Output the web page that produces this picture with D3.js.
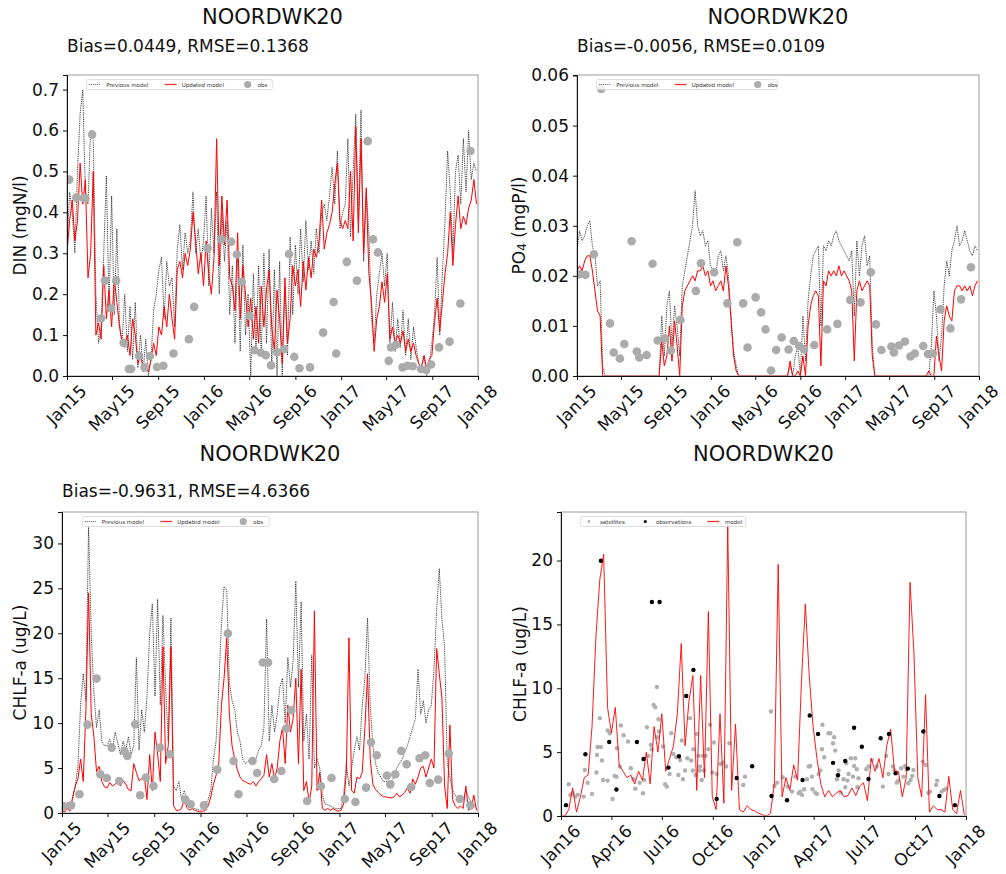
<!DOCTYPE html>
<html>
<head>
<meta charset="utf-8">
<script src="https://cdn.jsdelivr.net/npm/d3@7"></script>
<style>
body { margin: 0; background: #fff; }
svg { font-family: "DejaVu Sans", sans-serif; }
</style>
</head>
<body>
<div></div>
<script>
// ---- data (model series are weekly values starting 1 Jan of first year) ----
var stationName = "NOORDWK20";
var legendLabels = ["Previous model", "Updated model", "obs"];
var legendLabels4 = ["satellites", "observations", "model"];

var xTicks3y = ["2015-01-01","2015-05-01","2015-09-01","2016-01-01","2016-05-01","2016-09-01",
                "2017-01-01","2017-05-01","2017-09-01","2018-01-01"];
var xTicks2y = ["2016-01-01","2016-04-01","2016-07-01","2016-10-01","2017-01-01","2017-04-01",
                "2017-07-01","2017-10-01","2018-01-01"];
var dinTicks = [0, 0.1, 0.2, 0.3, 0.4, 0.5, 0.6, 0.7];
var po4Ticks = [0, 0.01, 0.02, 0.03, 0.04, 0.05, 0.06];
var chlTicks = [0, 5, 10, 15, 20, 25, 30];
var chl4Ticks = [0, 5, 10, 15, 20];

var dinStats = "Bias=0.0449, RMSE=0.1368";
var po4Stats = "Bias=-0.0056, RMSE=0.0109";
var chlStats = "Bias=-0.9631, RMSE=4.6366";

var dinPrev = [0.32,0.45,0.40,0.30,0.50,0.64,0.70,0.45,0.42,0.60,0.58,
 0.20,0.08,0.12,0.30,0.49,0.17,0.44,0.15,0.36,0.13,
 0.08,0.20,0.06,0.17,0.04,0.18,0.02,0.10,0.01,0.09,
 0.00,0.04,0.16,0.20,0.26,0.29,0.14,0.28,0.22,0.24,
 0.12,0.31,0.37,0.26,0.35,0.30,0.33,0.45,0.30,0.36,
 0.28,0.33,0.44,0.22,0.41,0.30,0.45,0.20,0.40,0.28,
 0.38,0.15,0.27,0.08,0.30,0.06,0.32,0.10,0.20,0.00,
 0.25,0.06,0.27,0.05,0.30,0.08,0.31,0.02,0.26,0.00,
 0.28,0.00,0.22,0.05,0.34,0.15,0.32,0.20,0.36,0.23,
 0.38,0.26,0.33,0.25,0.36,0.30,0.40,0.42,0.38,0.44,
 0.51,0.42,0.55,0.36,0.40,0.42,0.58,0.34,0.50,0.64,
 0.38,0.65,0.28,0.45,0.35,0.14,0.08,0.20,0.25,0.30,
 0.22,0.30,0.08,0.18,0.06,0.14,0.07,0.16,0.05,0.14,
 0.04,0.12,0.07,0.03,0.02,0.05,0.00,0.03,0.08,0.15,
 0.29,0.10,0.25,0.38,0.55,0.45,0.30,0.50,0.54,0.42,
 0.58,0.45,0.60,0.48,0.52,0.50];

var dinUpd = [0.30,0.38,0.43,0.33,0.38,0.52,0.42,0.48,0.24,0.30,0.50,
 0.10,0.13,0.09,0.27,0.14,0.21,0.12,0.24,0.18,0.12,
 0.08,0.07,0.10,0.05,0.14,0.10,0.03,0.05,0.02,0.03,
 0.01,0.04,0.08,0.05,0.12,0.10,0.17,0.12,0.20,0.14,
 0.09,0.26,0.28,0.24,0.30,0.27,0.31,0.40,0.33,0.25,
 0.30,0.22,0.33,0.25,0.20,0.29,0.58,0.27,0.44,0.32,
 0.43,0.24,0.22,0.16,0.35,0.14,0.27,0.20,0.12,0.19,
 0.09,0.17,0.08,0.22,0.12,0.21,0.26,0.12,0.06,0.21,
 0.14,0.03,0.24,0.08,0.14,0.27,0.22,0.26,0.17,0.28,
 0.21,0.29,0.24,0.31,0.29,0.33,0.43,0.31,0.35,0.37,
 0.40,0.47,0.52,0.38,0.36,0.38,0.36,0.50,0.33,0.61,
 0.35,0.58,0.30,0.46,0.25,0.18,0.06,0.14,0.17,0.23,
 0.18,0.25,0.09,0.12,0.08,0.10,0.08,0.11,0.06,0.09,
 0.06,0.08,0.05,0.03,0.02,0.05,0.02,0.04,0.05,0.13,
 0.19,0.11,0.18,0.25,0.30,0.40,0.27,0.37,0.44,0.36,
 0.39,0.37,0.41,0.43,0.48,0.42];

var dinObs = [["2015-01-07",0.48],["2015-01-26",0.436],["2015-02-14",0.435],["2015-02-19",0.434],
 ["2015-03-09",0.59],["2015-04-02",0.141],["2015-04-12",0.233],["2015-04-29",0.165],["2015-05-12",0.233],
 ["2015-06-01",0.081],["2015-06-15",0.017],["2015-06-21",0.017],["2015-07-12",0.049],["2015-07-27",0.021],
 ["2015-08-10",0.049],["2015-08-29",0.022],["2015-09-15",0.025],["2015-10-12",0.055],["2015-11-22",0.09],
 ["2015-12-06",0.169],["2016-01-11",0.312],["2016-02-16",0.334],["2016-03-14",0.328],["2016-03-29",0.297],
 ["2016-04-11",0.230],["2016-05-02",0.147],["2016-05-15",0.063],["2016-06-01",0.057],["2016-06-14",0.051],
 ["2016-06-28",0.026],["2016-07-14",0.058],["2016-08-02",0.066],["2016-08-15",0.298],["2016-08-29",0.047],
 ["2016-09-12",0.019],["2016-10-10",0.021],["2016-11-14",0.106],["2016-12-12",0.181],["2016-12-19",0.055],
 ["2017-01-16",0.279],["2017-02-12",0.233],["2017-03-13",0.574],["2017-03-27",0.334],["2017-04-09",0.302],
 ["2017-05-08",0.037],["2017-05-14",0.070],["2017-05-28",0.077],["2017-06-14",0.021],["2017-06-27",0.025],
 ["2017-07-11",0.024],["2017-08-02",0.017],["2017-08-16",0.015],["2017-08-29",0.028],["2017-09-19",0.070],
 ["2017-10-17",0.084],["2017-11-15",0.177],["2017-12-12",0.550]];

var po4Prev = [0.025,0.029,0.027,0.028,0.030,0.031,0.026,0.024,0.018,0.019,0.002,
 0,0,0,0,0,0,0,0,0,0,0,0,0,0,0,0,0,0,0,0,0,0,
 0.012,0.004,0.014,0.017,0.006,0.014,0.010,0.004,
 0.018,0.021,0.024,0.027,0.030,0.037,0.030,0.028,0.029,0.026,0.027,0.022,0.021,0.020,0.024,0.025,
 0.021,0.024,0.020,0.012,0.005,0.002,
 0,0,0,0,0,0,0,0,0,0,0,0,0,0,0,0,0,0,0,0,
 0.002,0.000,0.004,0.006,0.000,0.012,0.003,0.015,0.020,0.024,0.025,0.026,0.010,0.026,0.025,0.027,
 0.026,0.028,0.029,0.027,0.026,0.025,0.024,0.023,0.025,0.012,0.027,0.020,0.026,0.028,0.022,0.024,0.006,
 0,0,0,0,0,0,0,0,0,0,0,0,0,0,0,0,0,0,0,0,0,0,
 0.006,0.017,0.012,0.003,0.008,0.018,0.023,0.020,0.025,0.027,0.030,0.026,0.027,0.029,0.027,0.025,
 0.024,0.026,0.025];

var po4Upd = [0.021,0.022,0.021,0.023,0.024,0.024,0.021,0.017,0.013,0.012,0.000,
 0,0,0,0,0,0,0,0,0,0,0,0,0,0,0,0,0,0,0,0,0,0,
 0.007,0.002,0.004,0.010,0.003,0.011,0.006,0.000,0.014,0.017,0.018,0.019,0.020,0.019,0.021,0.021,
 0.022,0.020,0.021,0.018,0.019,0.017,0.018,0.019,0.017,0.022,0.018,0.011,0.004,0.001,
 0,0,0,0,0,0,0,0,0,0,0,0,0,0,0,0,0,0,0,0,
 0.003,0.000,0.000,0.001,0.000,0.004,0.000,0.010,0.014,0.016,0.017,0.016,0.002,0.019,0.018,0.021,
 0.020,0.021,0.020,0.022,0.020,0.021,0.020,0.019,0.017,0.003,0.017,0.019,0.017,0.018,0.019,0.018,0.004,
 0,0,0,0,0,0,0,0,0,0,0,0,0,0,0,0,0,0,0,0,0,
 0.001,0.000,0.000,0.008,0.004,0.001,0.011,0.014,0.012,0.011,0.017,0.018,0.018,0.017,0.018,0.017,
 0.018,0.016,0.018,0.019];

var po4Obs = [["2015-01-07",0.0203],["2015-01-24",0.0202],["2015-02-16",0.0243],["2015-03-08",0.0573],
 ["2015-04-01",0.0105],["2015-04-11",0.0047],["2015-04-28",0.0035],["2015-05-10",0.0064],["2015-05-30",0.0269],
 ["2015-06-13",0.0049],["2015-06-20",0.0037],["2015-07-10",0.0042],["2015-07-26",0.0224],["2015-08-09",0.0071],
 ["2015-08-29",0.0075],["2015-09-14",0.0051],["2015-10-10",0.0112],["2015-11-21",0.0170],["2015-12-05",0.0225],
 ["2016-01-10",0.0207],["2016-02-15",0.0145],["2016-03-13",0.0267],["2016-03-29",0.0145],["2016-04-10",0.0057],
 ["2016-05-02",0.0157],["2016-05-17",0.0127],["2016-05-29",0.0093],["2016-06-13",0.0011],["2016-06-27",0.0052],
 ["2016-07-12",0.0077],["2016-07-31",0.0053],["2016-08-14",0.0070],["2016-08-29",0.0060],["2016-09-11",0.0053],
 ["2016-10-09",0.0062],["2016-11-13",0.0093],["2016-12-11",0.0104],["2017-01-15",0.0152],["2017-02-12",0.0147],
 ["2017-03-12",0.0207],["2017-03-26",0.0103],["2017-04-10",0.0052],["2017-05-07",0.0059],["2017-05-14",0.0047],
 ["2017-05-28",0.0061],["2017-06-13",0.0069],["2017-06-28",0.0039],["2017-07-10",0.0045],["2017-08-02",0.0060],
 ["2017-08-15",0.0044],["2017-08-29",0.0045],["2017-09-18",0.0133],["2017-10-15",0.0095],["2017-11-13",0.0153],
 ["2017-12-10",0.0217]];

var chlPrev = [0.8,0.5,1.2,0.6,1.5,3.0,5.2,12.0,15.5,12.5,31.9,
 20.0,13.5,9.5,11.5,8.0,7.5,7.5,8.2,7.0,9.0,
 7.8,6.5,8.0,7.0,8.5,6.5,7.5,17.3,7.0,11.5,
 9.0,13.0,20.0,23.3,13.0,23.8,12.0,22.0,14.0,8.0,
 21.7,3.0,2.5,3.5,1.5,2.5,1.5,1.0,0.6,0.5,
 0.4,0.3,0.5,1.0,1.5,2.5,6.0,8.0,14.0,21.0,
 25.2,24.8,14.5,12.5,11.5,9.0,8.0,6.0,5.5,5.8,
 6.0,5.5,6.0,7.0,7.5,9.5,21.6,8.0,12.0,9.0,
 11.0,14.0,15.0,10.0,17.3,14.0,17.0,25.8,14.0,23.5,
 8.0,11.0,6.0,17.6,5.0,6.0,5.0,2.0,1.0,0.9,
 0.8,0.6,0.5,0.5,0.5,2.0,5.5,3.0,5.0,7.0,
 8.5,7.0,12.0,15.0,21.7,12.0,7.5,5.5,4.5,4.0,
 3.5,3.5,3.5,3.5,4.0,5.0,5.5,6.0,6.8,7.5,
 8.5,9.5,10.5,16.0,11.0,12.5,10.0,11.5,12.0,16.0,
 22.5,27.2,21.5,18.5,5.5,4.0,2.5,2.0,1.5,2.0,
 1.5,2.5,1.8,1.2,1.0,0.5];

var chlUpd = [0.3,0.1,0.5,0.2,1.8,3.0,3.8,6.0,3.5,11.5,24.5,
 11.0,8.5,4.6,5.2,3.5,2.9,2.8,3.4,3.0,3.2,
 3.5,3.0,3.6,3.2,2.6,2.5,5.5,4.5,3.6,3.8,
 4.0,1.5,6.5,2.5,9.0,6.5,3.5,18.5,5.5,7.5,
 18.5,0.8,0.3,0.3,0.5,1.5,0.6,0.3,0.5,0.3,
 0.2,0.1,0.2,0.3,0.8,1.8,3.2,4.2,5.5,12.0,
 15.0,19.5,11.0,7.5,6.0,4.8,4.0,3.6,3.5,3.3,
 3.2,3.5,3.0,3.5,3.8,4.2,6.5,4.0,5.5,3.8,
 5.0,8.0,9.5,5.5,12.0,9.0,10.5,15.0,5.5,16.0,
 2.5,3.5,1.2,3.0,22.5,2.5,4.5,0.5,0.3,0.5,
 0.3,0.5,0.3,0.2,0.3,1.0,4.5,19.5,2.5,2.2,
 4.0,3.8,4.5,9.5,15.5,6.0,3.2,2.6,2.3,2.0,
 1.8,1.8,1.7,1.7,1.8,2.2,1.8,2.0,2.3,2.8,
 2.2,3.8,3.2,4.0,5.0,5.2,4.0,5.0,6.0,5.0,
 18.3,15.5,12.8,3.0,0.5,9.8,1.5,0.8,0.5,0.8,
 0.5,3.0,0.3,0.5,2.0,0.3];

var chlObs = [["2015-01-05",0.74],["2015-01-25",0.85],["2015-02-16",2.08],["2015-03-09",9.84],
 ["2015-04-02",14.96],["2015-04-12",4.31],["2015-04-29",3.90],["2015-05-12",7.28],["2015-06-01",3.56],
 ["2015-06-15",6.87],["2015-06-22",6.35],["2015-07-13",9.88],["2015-07-26",1.97],["2015-08-10",3.94],
 ["2015-08-30",3.01],["2015-09-16",7.28],["2015-10-12",6.54],["2015-11-22",1.49],["2015-12-06",0.97],
 ["2016-01-10",0.85],["2016-02-14",4.83],["2016-03-13",19.98],["2016-03-28",5.79],["2016-04-10",2.08],
 ["2016-05-17",5.79],["2016-05-29",4.46],["2016-06-13",16.75],["2016-06-27",16.75],["2016-07-13",3.79],
 ["2016-08-01",4.68],["2016-08-14",9.39],["2016-08-27",11.44],["2016-10-08",1.34],["2016-11-13",2.97],
 ["2016-12-11",3.90],["2017-01-15",1.56],["2017-02-12",1.23],["2017-03-12",2.82],["2017-03-25",7.87],
 ["2017-04-09",6.42],["2017-05-06",4.16],["2017-05-15",3.19],["2017-05-28",4.31],["2017-06-13",6.91],
 ["2017-06-27",5.42],["2017-07-09",2.90],["2017-07-31",6.09],["2017-08-15",6.42],["2017-08-27",3.34],
 ["2017-09-18",3.71],["2017-10-16",6.61],["2017-11-14",1.56],["2017-12-12",0.85]];

// panel 4: model weekly from 1 Jan 2016, satellites as [days since 1 Jan 2016, value]
var chlModel = [0.0,0.0,0.5,2.2,0.3,1.5,3.0,3.2,7.0,14.0,
 18.5,20.5,8.5,6.5,8.5,4.0,3.5,3.0,3.2,2.5,
 3.5,2.8,5.0,2.5,7.0,5.0,8.0,3.5,4.5,5.5,
 8.0,13.5,5.5,9.0,11.0,2.0,11.0,3.0,16.0,1.5,
 0.5,8.0,1.0,22.8,2.0,7.2,0.5,0.3,0.8,0.5,
 0.4,0.2,0.1,0.0,0.2,2.5,19.7,1.5,3.0,2.0,
 4.0,2.8,10.5,16.6,11.0,7.0,4.5,2.5,1.5,2.0,
 1.5,1.8,2.0,1.5,1.6,2.2,1.6,2.3,2.6,1.2,
 4.5,3.5,4.5,3.0,5.5,6.8,3.5,3.5,1.5,3.0,
 18.3,12.8,3.0,1.5,9.5,0.3,0.8,0.5,0.5,0.3,
 3.1,0.5,0.2,2.0,0.1];

var chlSat = [[14,2.48],[17,1.65],[21,1.78],[26,1.52],[30,1.65],[41,1.52],[43,3.6],[48,2.6],[56,1.73],
 [64,3.4],[65,4.78],[66,5.4],[70,7.66],[72,5.4],[74,4.34],[76,2.82],[84,2.77],[84,6.7],[88,6.48],[93,1.33],
 [97,3.14],[100,3.08],[101,5.3],[106,3.87],[108,7.08],[113,6.33],[121,5.83],[126,3.74],[131,2.88],[134,2.14],
 [142,2.61],[148,1.78],[150,2.82],[155,6.95],[158,4.71],[162,5.57],[164,5.23],[167,8.7],[170,8.52],[173,10.1],
 [174,6.17],[176,7.58],[177,6.61],[184,5.44],[188,2.48],[191,2.3],[196,3.29],[199,6.48],[203,4.86],[208,4.6],
 [212,3.21],[215,4.39],[218,5.91],[220,2.88],[224,3.56],[228,4.52],[233,7.66],[235,4.34],[238,3.56],[239,5.23],
 [243,3.21],[245,6.43],[248,4.71],[250,3.56],[251,3.87],[254,2.82],[256,4.71],[258,3.56],[261,4.71],[266,5.23],
 [269,7.14],[273,3.4],[276,5.75],[281,3.29],[288,4.08],[293,4.18],[298,3.87],[304,5.7],[329,2.43],[332,3.08],
 [379,8.18],[385,2.35],[390,2.61],[400,3.03],[409,2.3],[417,1.91],[423,3.08],[429,1.78],[432,1.91],[435,1.65],
 [439,2.09],[444,2.88],[447,3.87],[450,3.92],[453,3.08],[454,2.09],[459,1.83],[462,1.73],[465,3.29],[468,3.56],
 [471,5.23],[472,7.14],[475,4.6],[483,6.48],[486,6.48],[491,5.7],[493,6.17],[495,5.12],[498,2.88],[501,3.56],
 [505,1.83],[510,2.88],[513,2.25],[515,4.13],[517,2.77],[519,3.29],[523,4.52],[527,3.08],[529,3.92],[531,4.52],
 [534,3.66],[535,2.25],[537,2.95],[551,3.66],[555,3.87],[561,4.39],[570,3.87],[581,2.3],[587,4.71],[591,3.29],
 [599,3.87],[602,3.56],[606,2.61],[609,2.77],[614,3.74],[618,3.08],[621,3.92],[624,3.66],[627,2.56],[631,2.82],
 [634,3.14],[636,3.6],[653,4.26],[658,4.0],[663,1.83],[666,1.91],[677,2.43],[679,2.77],[687,1.91],[691,2.04],
 [695,2.14]];

// ---- helpers ----
var parseDate = d3.timeParse("%Y-%m-%d");

function weekly(start, values) {
	var t0 = parseDate(start);
	return values.map(function(v, i) { return { date: d3.timeDay.offset(t0, 7 * i), value: v }; });
}
function dated(rows) {
	return rows.map(function(r) { return { date: parseDate(r[0]), value: r[1] }; });
}

var svg = d3.select("body").select("div").append("svg")
	.attr("width", 1006)
	.attr("height", 874);

var clipCount = 0;

function drawPanel(p) {
	var g = svg.append("g");
	var x = d3.scaleTime().domain(p.xDomain).range([p.left, p.right]);
	var y = d3.scaleLinear().domain(p.yDomain).range([p.bottom, p.top]);

	var clipId = "clip" + (clipCount++);
	g.append("clipPath").attr("id", clipId)
		.append("rect")
		.attr("x", p.left).attr("y", p.top)
		.attr("width", p.right - p.left).attr("height", p.bottom - p.top);

	var plot = g.append("g").attr("clip-path", "url(#" + clipId + ")");
	var line = d3.line().x(function(d) { return x(d.date); }).y(function(d) { return y(d.value); });

	p.series.forEach(function(s) {
		if (s.type === "line") {
			plot.append("path")
				.datum(s.data)
				.attr("d", line)
				.attr("fill", "none")
				.attr("stroke", s.color)
				.attr("stroke-width", s.width)
				.attr("stroke-linejoin", "miter")
				.attr("stroke-dasharray", s.dash || null);
		} else {
			plot.append("g").selectAll("circle")
				.data(s.data)
				.enter()
				.append("circle")
				.attr("cx", function(d) { return x(d.date); })
				.attr("cy", function(d) { return y(d.value); })
				.attr("r", s.r)
				.attr("fill", s.color);
		}
	});

	// frame
	g.append("rect")
		.attr("x", p.left).attr("y", p.top)
		.attr("width", p.right - p.left).attr("height", p.bottom - p.top)
		.attr("fill", "none")
		.attr("stroke", "#9a9a9a")
		.attr("stroke-width", 1);

	// axes
	var xAxis = g.append("g")
		.attr("transform", "translate(0," + p.bottom + ")")
		.call(d3.axisBottom(x).tickValues(p.xTicks.map(parseDate))
			.tickFormat(d3.timeFormat("%b%y")).tickSize(4).tickPadding(3));
	var yAxis = g.append("g")
		.attr("transform", "translate(" + p.left + ",0)")
		.call(d3.axisLeft(y).tickValues(p.yTicks).tickFormat(d3.format(p.yFormat)).tickSize(4).tickPadding(4));

	[xAxis, yAxis].forEach(function(a) {
		a.select(".domain").attr("stroke", "#111");
		a.selectAll(".tick line").attr("stroke", "#111");
		a.selectAll(".tick text").attr("font-size", 17).attr("fill", "#111")
			.style("font-family", "DejaVu Sans, sans-serif");
	});

	xAxis.selectAll(".tick text").each(function() {
		var w = this.getComputedTextLength();
		d3.select(this)
			.attr("y", 0).attr("dy", 0)
			.attr("text-anchor", "middle")
			.attr("dominant-baseline", "central")
			.attr("transform", "translate(-1," + (7 + (w + 14) * 0.3536) + ") rotate(-45)");
	});

	// y label
	var yl = g.append("text")
		.attr("transform", "translate(" + p.ylabelX + "," + ((p.top + p.bottom) / 2) + ") rotate(-90)")
		.attr("text-anchor", "middle")
		.attr("dominant-baseline", "central")
		.attr("font-size", 17)
		.attr("fill", "#111");
	p.ylabel(yl);

	// title and stats
	g.append("text")
		.attr("x", (p.left + p.right) / 2).attr("y", p.top - 51)
		.attr("text-anchor", "middle")
		.attr("font-size", 21)
		.attr("fill", "#111")
		.text(stationName);
	if (p.stats) {
		g.append("text")
			.attr("x", p.left).attr("y", p.statsY)
			.attr("font-size", 17)
			.attr("fill", "#111")
			.text(p.stats);
	}

	// legend
	var lg = g.append("g").attr("transform", "translate(" + p.legend.x + "," + (p.top + 4.5) + ")");
	lg.append("rect")
		.attr("width", p.legend.w).attr("height", 10).attr("rx", 1.5)
		.attr("fill", "#fff").attr("fill-opacity", 0.8)
		.attr("stroke", "#d4d4d4").attr("stroke-width", 0.8);
	p.legend.items.forEach(function(it) {
		if (it.type === "line") {
			lg.append("line")
				.attr("x1", it.x).attr("x2", it.x + 12).attr("y1", 5).attr("y2", 5)
				.style("stroke", it.color).style("stroke-width", it.width)
				.style("stroke-dasharray", it.dash || "none");
		} else {
			lg.append("circle").attr("cx", it.x + 6).attr("cy", 5).attr("r", it.r).attr("fill", it.color);
		}
		lg.append("text")
			.attr("x", it.x + it.tx).attr("y", 5)
			.attr("dominant-baseline", "central")
			.attr("font-size", 5.5)
			.attr("fill", "#333")
			.text(it.label);
	});
}

var range3y = [parseDate("2015-01-01"), parseDate("2018-01-01")];
var range2y = [parseDate("2016-01-01"), parseDate("2018-01-01")];

function stdLegend(x0, w) {
	return { x: x0, w: w, items: [
		{ type: "line", x: 2.5, tx: 17, color: "#444", width: 0.9, dash: "1,1", label: legendLabels[0] },
		{ type: "line", x: 78, tx: 17, color: "#ff3030", width: 1.3, label: legendLabels[1] },
		{ type: "dot", x: 155, tx: 16, r: 3.6, color: "#ababab", label: legendLabels[2] }
	]};
}

function stdSeries(prev, upd, obs, start) {
	return [
		{ type: "line", data: weekly(start, prev), color: "#111", width: 0.8, dash: "1.2,1" },
		{ type: "line", data: weekly(start, upd), color: "#ff0000", width: 1 },
		{ type: "dots", data: dated(obs), color: "#ababab", r: 4.3 }
	];
}

drawPanel({
	left: 67, right: 478, top: 75, bottom: 376,
	xDomain: range3y, yDomain: [0, 0.7356], xTicks: xTicks3y, yTicks: dinTicks, yFormat: ".1f",
	ylabelX: 20, ylabel: function(t) { t.text("DIN (mgN/l)"); },
	stats: dinStats, statsY: 52,
	legend: stdLegend(86.7, 185.6),
	series: stdSeries(dinPrev, dinUpd, dinObs, "2015-01-01")
});

drawPanel({
	left: 577, right: 979, top: 75, bottom: 376,
	xDomain: range3y, yDomain: [0, 0.0601], xTicks: xTicks3y, yTicks: po4Ticks, yFormat: ".2f",
	ylabelX: 519, ylabel: function(t) {
		t.append("tspan").text("PO");
		t.append("tspan").attr("font-size", 12).attr("dy", 3).text("4");
		t.append("tspan").attr("dy", -3).text(" (mgP/l)");
	},
	stats: po4Stats, statsY: 52,
	legend: stdLegend(596.7, 180.6),
	series: stdSeries(po4Prev, po4Upd, po4Obs, "2015-01-01")
});

drawPanel({
	left: 62, right: 478, top: 512, bottom: 813,
	xDomain: range3y, yDomain: [0, 33.5], xTicks: xTicks3y, yTicks: chlTicks, yFormat: "d",
	ylabelX: 20, ylabel: function(t) { t.text("CHLF-a (ug/L)"); },
	stats: chlStats, statsY: 497,
	legend: stdLegend(82.3, 187),
	series: stdSeries(chlPrev, chlUpd, chlObs, "2015-01-01")
});

var t2016 = parseDate("2016-01-01");
drawPanel({
	left: 561, right: 966, top: 512, bottom: 816,
	xDomain: range2y, yDomain: [0, 23.8], xTicks: xTicks2y, yTicks: chl4Ticks, yFormat: "d",
	ylabelX: 520, ylabel: function(t) { t.text("CHLF-a (ug/L)"); },
	stats: null,
	legend: { x: 580.7, w: 165, items: [
		{ type: "dot", x: 2.3, tx: 17, r: 1.4, color: "#b0b0b0", label: legendLabels4[0] },
		{ type: "dot", x: 58.6, tx: 16.7, r: 1.6, color: "#000", label: legendLabels4[1] },
		{ type: "line", x: 126.6, tx: 17.7, color: "#ff3030", width: 1.3, label: legendLabels4[2] }
	]},
	series: [
		{ type: "dots", data: chlSat.map(function(r) { return { date: d3.timeDay.offset(t2016, r[0]), value: r[1] }; }),
		  color: "#b0b0b0", r: 2.2 },
		{ type: "line", data: weekly("2016-01-01", chlModel), color: "#ff0000", width: 0.9 },
		{ type: "dots", data: dated(chlObs).filter(function(d) { return d.date >= t2016; }), color: "#000", r: 2.2 }
	]
});
</script>
</body>
</html>
